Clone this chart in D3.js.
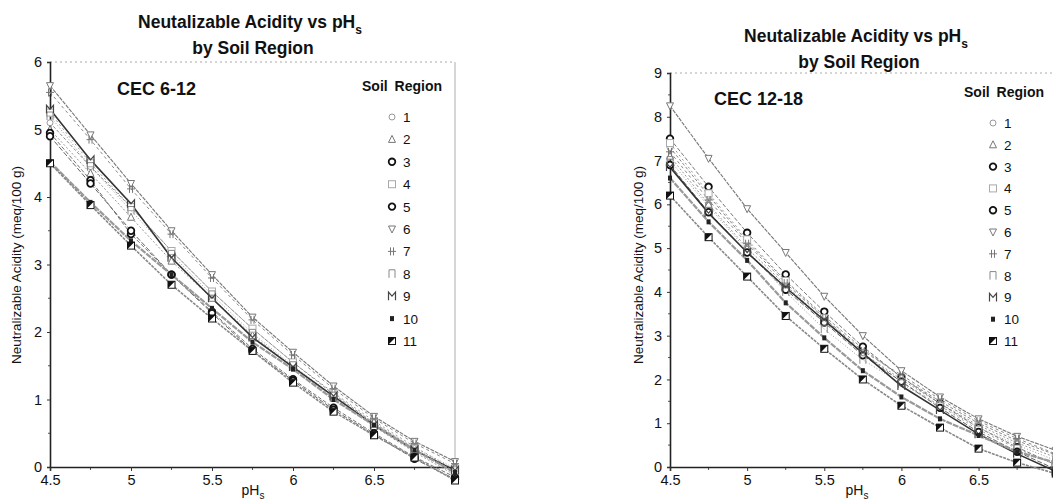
<!DOCTYPE html>
<html>
<head>
<meta charset="UTF-8">
<title>Neutralizable Acidity vs pHs</title>
<script src="https://d3js.org/d3.v7.min.js"></script>
<style>
  body { margin: 0; background: #fff; }
  svg text { font-family: "Liberation Sans", Arial, sans-serif; fill: #111; }
</style>
</head>
<body>
<div id="chart"></div>
<script>
// x values (pHs) shared by both panels
var phValues = [4.5, 4.75, 5, 5.25, 5.5, 5.75, 6, 6.25, 6.5, 6.75, 7];
var regions = ["1", "2", "3", "4", "5", "6", "7", "8", "9", "10", "11"];
var xTicks = [4.5, 5, 5.5, 6, 6.5];

// CEC 6-12, one row per soil region (1..11)
var cec6to12 = [
  [5.10, 4.45, 3.85, 3.20, 2.60, 2.05, 1.55, 1.08, 0.65, 0.27, -0.10],
  [5.00, 4.35, 3.70, 3.05, 2.50, 1.95, 1.48, 1.02, 0.60, 0.22, -0.12],
  [4.95, 4.25, 3.45, 2.85, 2.30, 1.75, 1.30, 0.88, 0.50, 0.15, -0.15],
  [5.25, 4.50, 3.85, 3.20, 2.60, 2.05, 1.55, 1.10, 0.68, 0.30, -0.05],
  [4.90, 4.20, 3.50, 2.85, 2.28, 1.72, 1.28, 0.85, 0.48, 0.12, -0.18],
  [5.65, 4.92, 4.20, 3.50, 2.85, 2.22, 1.70, 1.20, 0.75, 0.38, 0.08],
  [5.55, 4.85, 4.12, 3.45, 2.80, 2.18, 1.66, 1.16, 0.72, 0.35, 0.05],
  [5.20, 4.45, 3.80, 3.15, 2.55, 1.98, 1.50, 1.05, 0.65, 0.28, -0.02],
  [5.30, 4.55, 3.90, 3.10, 2.50, 1.92, 1.48, 1.05, 0.62, 0.25, -0.05],
  [4.52, 3.92, 3.35, 2.85, 2.35, 1.85, 1.45, 1.00, 0.62, 0.25, -0.08],
  [4.50, 3.88, 3.28, 2.70, 2.20, 1.72, 1.25, 0.82, 0.47, 0.14, -0.20]
];

// CEC 12-18, one row per soil region (1..11)
var cec12to18 = [
  [7.30, 6.20, 5.15, 4.25, 3.45, 2.70, 2.05, 1.50, 1.00, 0.60, 0.28],
  [7.10, 6.00, 5.00, 4.15, 3.35, 2.60, 2.00, 1.45, 0.95, 0.55, 0.22],
  [7.50, 6.40, 5.35, 4.40, 3.55, 2.75, 2.05, 1.45, 0.90, 0.45, 0.05],
  [7.40, 6.25, 5.20, 4.25, 3.40, 2.60, 1.95, 1.40, 0.85, 0.42, 0.05],
  [6.90, 5.82, 4.90, 4.05, 3.30, 2.55, 1.95, 1.35, 0.80, 0.35, -0.05],
  [8.25, 7.05, 5.90, 4.90, 3.90, 3.00, 2.20, 1.60, 1.10, 0.70, 0.38],
  [7.20, 6.10, 5.10, 4.20, 3.40, 2.65, 2.10, 1.55, 1.05, 0.65, 0.30],
  [7.00, 5.95, 4.95, 4.00, 3.15, 2.45, 1.90, 1.40, 0.90, 0.50, 0.15],
  [6.85, 5.80, 4.90, 4.10, 3.35, 2.60, 1.85, 1.30, 0.75, 0.30, -0.10],
  [6.60, 5.60, 4.72, 3.75, 2.95, 2.20, 1.60, 1.10, 0.72, 0.35, 0.10],
  [6.20, 5.25, 4.35, 3.45, 2.70, 2.00, 1.40, 0.90, 0.42, 0.10, -0.15]
];

// line look per region
var lineStyle = [
  { c: "#8a8a8a", w: 1, d: "3,2" },
  { c: "#999", w: 1, d: "2,2" },
  { c: "#777", w: 1, d: "4,2" },
  { c: "#9a9a9a", w: 1, d: "2,3" },
  { c: "#666", w: 1, d: "5,2" },
  { c: "#777", w: 1.1, d: "4,1" },
  { c: "#888", w: 1, d: "3,3" },
  { c: "#999", w: 1, d: "1,2" },
  { c: "#333", w: 1.6, d: null },
  { c: "#999", w: 2.2, d: "6,1" },
  { c: "#888", w: 1.6, d: "3,1" }
];

var W = 1053, H = 501;
var svg = d3.select("#chart").append("svg")
  .attr("width", W).attr("height", H);

// draw one marker
function marker(g, k, cx, cy) {
  var m = g.append("g").attr("transform", "translate(" + cx + "," + cy + ")");
  if (k == 0) m.append("circle").attr("r", 3).attr("fill", "#fff").attr("stroke", "#999").attr("stroke-width", 1);
  else if (k == 1) m.append("path").attr("d", "M0,-4L3.5,3L-3.5,3Z").attr("fill", "#fff").attr("stroke", "#777");
  else if (k == 2 || k == 4) m.append("circle").attr("r", 3.3).attr("fill", "#fff").attr("stroke", "#111").attr("stroke-width", 1.8);
  else if (k == 3) m.append("rect").attr("x", -3.5).attr("y", -3.5).attr("width", 7).attr("height", 7).attr("fill", "#fff").attr("stroke", "#aaa");
  else if (k == 5) m.append("path").attr("d", "M0,4L3.5,-3L-3.5,-3Z").attr("fill", "#fff").attr("stroke", "#777");
  else if (k == 6) m.append("path").attr("d", "M-1.5,-4V4M1.5,-4V4M-4,0H4").attr("stroke", "#777").attr("stroke-width", 1);
  else if (k == 7) m.append("path").attr("d", "M-3,4V-4H3V4").attr("fill", "none").attr("stroke", "#888");
  else if (k == 8) m.append("path").attr("d", "M-3.5,4V-4L0,0L3.5,-4V4").attr("fill", "none").attr("stroke", "#444").attr("stroke-width", 1.2);
  else if (k == 9) m.append("rect").attr("x", -2).attr("y", -2.5).attr("width", 4).attr("height", 5).attr("fill", "#222");
  else {
    m.append("rect").attr("x", -3.5).attr("y", -3.5).attr("width", 7).attr("height", 7).attr("fill", "#fff").attr("stroke", "#111");
    m.append("path").attr("d", "M-3.5,-3.5H3.5L-3.5,3.5Z").attr("fill", "#111");
  }
}

function panel(cfg) {
  var x = d3.scaleLinear().domain([4.5, 7]).range([cfg.x0, cfg.x1]);
  var y = d3.scaleLinear().domain([0, cfg.yMax]).range([467, cfg.yTop]);
  var g = svg.append("g");

  // titles
  var t = g.append("text").attr("x", cfg.tx).attr("y", cfg.ty)
    .attr("text-anchor", "middle").attr("font-size", 17.5).attr("font-weight", "bold");
  t.append("tspan").text("Neutalizable Acidity vs pH");
  t.append("tspan").attr("dy", 6).attr("font-size", 12).text("s");
  g.append("text").attr("x", cfg.tx + 3).attr("y", cfg.ty + 26)
    .attr("text-anchor", "middle").attr("font-size", 17.5).attr("font-weight", "bold")
    .text("by Soil Region");

  // frame: dotted top, thin right edge
  g.append("line").attr("x1", x(4.5)).attr("x2", x(7)).attr("y1", y(cfg.yMax)).attr("y2", y(cfg.yMax))
    .attr("stroke", "#aaa").attr("stroke-dasharray", "2,3");
  g.append("line").attr("x1", x(7)).attr("x2", x(7)).attr("y1", y(cfg.yMax)).attr("y2", y(0))
    .attr("stroke", "#999").attr("stroke-width", 0.8);

  // minor ticks
  var yMinor = d3.range(0.5, cfg.yMax, 1);
  g.selectAll(".ym").data(yMinor).enter().append("line")
    .attr("x1", x(4.5) - 2).attr("x2", x(4.5)).attr("y1", d => y(d)).attr("y2", d => y(d)).attr("stroke", "#555");
  g.selectAll(".xm").data(d3.range(4.75, 7, 0.5)).enter().append("line")
    .attr("x1", d => x(d)).attr("x2", d => x(d)).attr("y1", y(0)).attr("y2", y(0) + 3).attr("stroke", "#555");

  // axes
  var ya = g.append("g").attr("transform", "translate(" + x(4.5) + ",0)")
    .call(d3.axisLeft(y).tickValues(d3.range(0, cfg.yMax + 1)).tickSize(3).tickPadding(5).tickFormat(d3.format("d")));
  var xa = g.append("g").attr("transform", "translate(0," + y(0) + ")")
    .call(d3.axisBottom(x).tickValues(xTicks).tickSize(4).tickPadding(4).tickFormat(d3.format("")));
  [ya, xa].forEach(function (a) {
    a.select(".domain").attr("stroke", "#222").attr("stroke-width", 1.6);
    a.selectAll(".tick line").attr("stroke", "#333");
    a.selectAll("text").attr("font-size", 14.5).attr("fill", "#111")
      .attr("font-family", "Liberation Sans, Arial, sans-serif");
  });

  // axis titles
  var xt = g.append("text").attr("x", cfg.xtx).attr("y", 495).attr("text-anchor", "middle").attr("font-size", 14);
  xt.append("tspan").text("pH");
  xt.append("tspan").attr("dy", 4).attr("font-size", 10).text("s");
  g.append("text").attr("transform", "translate(" + cfg.ytx + ",265) rotate(-90)")
    .attr("text-anchor", "middle").attr("font-size", 13.5)
    .text("Neutralizable Acidity (meq/100 g)");

  // CEC label
  g.append("text").attr("x", cfg.cx).attr("y", cfg.cy).attr("font-size", 18).attr("font-weight", "bold").text(cfg.label);

  // lines and markers
  var line = d3.line().x((d, i) => x(phValues[i])).y(d => y(d));
  cfg.data.forEach(function (vals, k) {
    var s = lineStyle[k];
    g.append("path").datum(vals).attr("d", line).attr("fill", "none")
      .attr("stroke", s.c).attr("stroke-width", s.w)
      .attr("stroke-dasharray", s.d);
  });
  cfg.data.forEach(function (vals, k) {
    vals.forEach(function (v, i) { marker(g, k, x(phValues[i]), y(v)); });
  });

  // legend
  g.append("text").attr("x", cfg.lx).attr("y", cfg.ly).attr("font-size", 14).attr("font-weight", "bold")
    .attr("word-spacing", 3).text("Soil Region");
  regions.forEach(function (r, k) {
    var yy = cfg.ly + 26 + k * cfg.lstep;
    marker(g, k, cfg.lsx, yy);
    g.append("text").attr("x", cfg.lsx + 11).attr("y", yy + 5).attr("font-size", 13.5)
      .attr("fill", "#111").text(r);
  });
}

panel({ data: cec6to12, yMax: 6, yTop: 62, x0: 50, x1: 455, tx: 250, ty: 28, xtx: 253, ytx: 21,
  cx: 117, cy: 95, label: "CEC 6-12", lx: 362, ly: 91, lsx: 392, lstep: 22.4 });
panel({ data: cec12to18, yMax: 9, yTop: 73, x0: 670, x1: 1055.7, tx: 856, ty: 42, xtx: 857, ytx: 643,
  cx: 714, cy: 105, label: "CEC 12-18", lx: 964, ly: 97, lsx: 993, lstep: 21.8 });
</script>
</body>
</html>
